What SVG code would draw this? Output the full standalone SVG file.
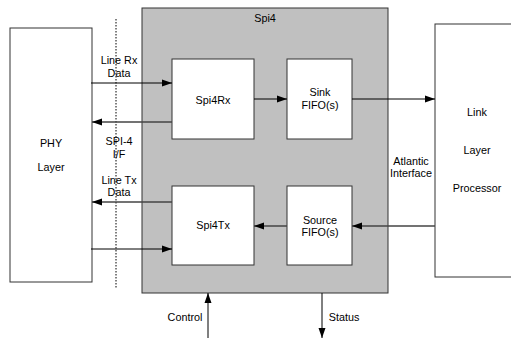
<svg xmlns="http://www.w3.org/2000/svg" width="511" height="338" viewBox="0 0 511 338">
<style>
text{font-family:"Liberation Sans",Arial,sans-serif;font-size:10.8px;fill:#000;text-anchor:middle}
.box{fill:#fff;stroke:#333;stroke-width:1}
.c{stroke:#000;stroke-width:1;fill:none}
.g{stroke:#444;stroke-width:1.4;fill:none}
</style>
<defs>
<marker id="ah" viewBox="0 0 10 8" refX="10" refY="4" markerWidth="10" markerHeight="8" markerUnits="userSpaceOnUse" orient="auto">
<path d="M0,0.5 L10,4 L0,7.5 Z" fill="#000"/>
</marker>
</defs>
<rect width="511" height="338" fill="#fff"/>
<g id="spi4">
<rect x="142" y="8" width="246" height="285" fill="#c0c0c0" stroke="#333" stroke-width="1"/>
<text x="265" y="22">Spi4</text>
</g>
<g id="phy">
<rect class="box" x="10" y="28" width="82" height="254"/>
<text x="51" y="147">PHY</text>
<text x="51" y="171">Layer</text>
</g>
<g id="link">
<rect class="box" x="435" y="24" width="80" height="253"/>
<text x="477" y="116">Link</text>
<text x="477" y="154">Layer</text>
<text x="477" y="192">Processor</text>
</g>
<g id="spi4rx">
<rect class="box" x="172" y="59" width="82" height="80"/>
<text x="213" y="104">Spi4Rx</text>
</g>
<g id="sink">
<rect class="box" x="287" y="59" width="65" height="80"/>
<text x="320" y="96">Sink</text>
<text x="320" y="109">FIFO(s)</text>
</g>
<g id="spi4tx">
<rect class="box" x="172" y="186" width="82" height="79"/>
<text x="213" y="229">Spi4Tx</text>
</g>
<g id="source">
<rect class="box" x="287" y="186" width="65" height="79"/>
<text x="320" y="224">Source</text>
<text x="320" y="236">FIFO(s)</text>
</g>
<g id="boundary">
<line x1="116" y1="19" x2="116" y2="288" stroke="#000" stroke-width="1" stroke-dasharray="1.5,1.5"/>
</g>
<g id="connectors">
<line class="c" x1="91" y1="83" x2="172" y2="83" marker-end="url(#ah)"/>
<line class="g" x1="172" y1="122" x2="92" y2="122" marker-end="url(#ah)"/>
<line class="c" x1="254" y1="99" x2="287" y2="99" marker-end="url(#ah)"/>
<line class="c" x1="352" y1="99" x2="435" y2="99" marker-end="url(#ah)"/>
<line class="g" x1="172" y1="202" x2="92" y2="202" marker-end="url(#ah)"/>
<line class="c" x1="91" y1="249" x2="172" y2="249" marker-end="url(#ah)"/>
<line class="g" x1="287" y1="226" x2="254" y2="226" marker-end="url(#ah)"/>
<line class="g" x1="435" y1="226" x2="352" y2="226" marker-end="url(#ah)"/>
<line class="c" x1="208" y1="338" x2="208" y2="293" marker-end="url(#ah)"/>
<line class="c" x1="322" y1="293" x2="322" y2="338" marker-end="url(#ah)"/>
</g>
<g id="labels">
<text x="119" y="64">Line Rx</text>
<text x="119" y="77">Data</text>
<text x="119" y="145">SPI-4</text>
<text x="119" y="158">I/F</text>
<text x="119" y="184">Line Tx</text>
<text x="119" y="196">Data</text>
<text x="411" y="165">Atlantic</text>
<text x="411" y="177">Interface</text>
<text x="185" y="321">Control</text>
<text x="344" y="321">Status</text>
</g>
</svg>
